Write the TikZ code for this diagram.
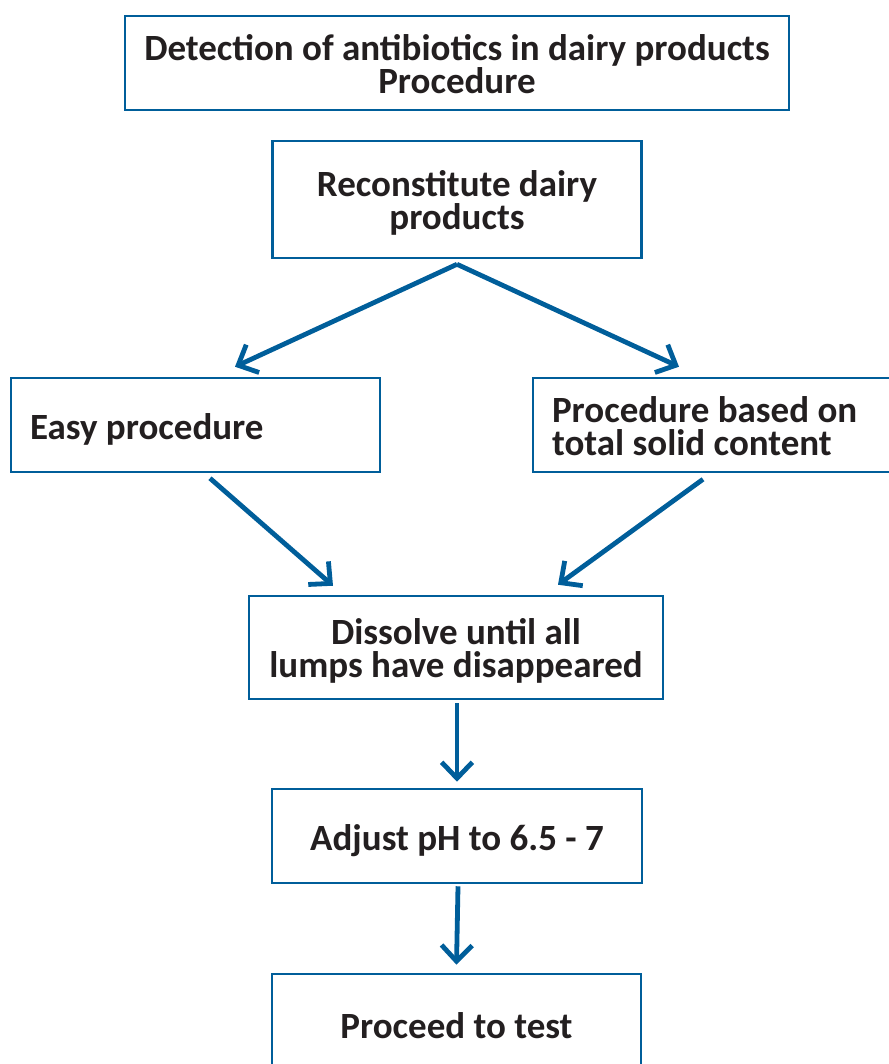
\documentclass[tikz,border=0pt]{standalone}
\usepackage{fontspec}
\setmainfont{Carlito}
\usepackage{tikz}
\usetikzlibrary{positioning, arrows.meta, calc}
\definecolor{flowblue}{RGB}{0,94,154}
\definecolor{inkdark}{RGB}{35,31,32}
\lineskiplimit=-30pt
\tikzset{
  box/.style={draw=flowblue, line width=1.9pt, text=inkdark, font=\fontsize{27.75}{24.4}\selectfont\bfseries, align=flush center, inner sep=0pt, text width=#1},
  leftbox/.style={box=248.25pt, align=flush left, inner xsep=14.25pt},
  oneline/.style={text height=21pt, text depth=0pt},
  twoline/.style={text height=20.6pt, text depth=24.4pt},
  flow/.style={draw=flowblue, line width=3.6pt, -{Straight Barb[length=12pt,width=23pt]}}
}
\begin{document}
\begin{tikzpicture}[x=0.75pt,y=0.75pt,yscale=-1]
\useasboundingbox (0,0) rectangle (889,1064);
% Boxes
\node [box=498pt, twoline, minimum height=70.5pt] (title) at (457,63) {Detection of antibiotics in dairy products\\Procedure};
\node [box=276.75pt, twoline, minimum height=87.75pt] (recon) at (457,199.5) {Reconstitute dairy\\products};
\node [leftbox, oneline, minimum height=70.5pt] (easy) at (195.5,425) {Easy procedure};
\node [leftbox, twoline, minimum height=70.5pt] (solid) at (717.5,425) {Procedure based on\\total solid content};
\node [box=310.5pt, twoline, minimum height=77.25pt] (dissolve) at (456,647.5) {Dissolve until all\\lumps have disappeared};
\node [box=277.5pt, oneline, minimum height=70.5pt] (adjust) at (457,836) {Adjust pH to 6.5 - 7};
\node [box=276.75pt, oneline, minimum height=75pt] (proceed) at (456.5,1024) {Proceed to test};
% Arrows
\draw [flow] ($(recon.south)+(0,5)$) -- ($(easy.north)+(39.5,-10)$);
\draw [flow] ($(recon.south)+(0,5)$) -- ($(solid.north)+(-38.5,-10)$);
\draw [flow] ($(easy.south)+(14.5,5)$) -- ($(dissolve.north)+(-123,-9)$);
\draw [flow] ($(solid.south)+(-14.5,6)$) -- ($(dissolve.north)+(102,-10)$);
\draw [flow] ($(dissolve.south)+(1,3)$) -- ($(adjust.north)+(0,-6)$);
\draw [flow] ($(adjust.south)+(1,2)$) -- ($(proceed.north)+(0,-8)$);
\end{tikzpicture}
\end{document}
